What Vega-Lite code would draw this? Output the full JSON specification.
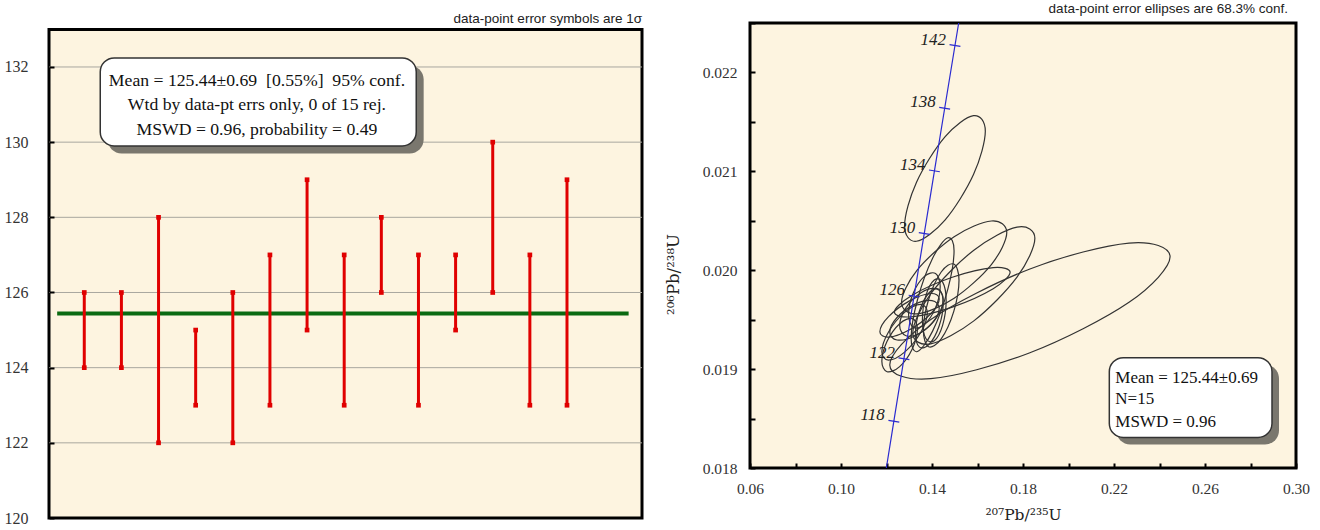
{
  "$schema": "https://vega.github.io/schema/vega-lite/v6.json",
  "background": "white",
  "padding": {"left": 4, "top": 0, "right": 0, "bottom": 0},
  "spacing": 19,
  "config": {
    "view": {"fill": "#fdf4e0", "stroke": "#000000", "strokeWidth": 3},
    "font": "Liberation Serif"
  },
  "datasets": {
    "bars": [
      {"i": 1, "lo": 124, "hi": 126},
      {"i": 2, "lo": 124, "hi": 126},
      {"i": 3, "lo": 122, "hi": 128},
      {"i": 4, "lo": 123, "hi": 125},
      {"i": 5, "lo": 122, "hi": 126},
      {"i": 6, "lo": 123, "hi": 127},
      {"i": 7, "lo": 125, "hi": 129},
      {"i": 8, "lo": 123, "hi": 127},
      {"i": 9, "lo": 126, "hi": 128},
      {"i": 10, "lo": 123, "hi": 127},
      {"i": 11, "lo": 125, "hi": 127},
      {"i": 12, "lo": 126, "hi": 130},
      {"i": 13, "lo": 123, "hi": 127},
      {"i": 14, "lo": 123, "hi": 129}
    ],
    "grid": [{"g": 122}, {"g": 124}, {"g": 126}, {"g": 128}, {"g": 130}, {"g": 132}],
    "mean": [{"x": 0.27, "m": 125.44}, {"x": 15.66, "m": 125.44}],
    "box1": [{"x1": 1.43, "x2": 9.94, "y1": 129.9, "y2": 132.24, "sx1": 1.63, "sx2": 10.14, "sy1": 129.7, "sy2": 132.04}],
    "txt1": [
      {"x": 5.65, "y": 131.64, "t": "Mean = 125.44±0.69\u00a0 [0.55%]\u00a0 95% conf."},
      {"x": 5.65, "y": 130.98, "t": "Wtd by data-pt errs only, 0 of 15 rej."},
      {"x": 5.65, "y": 130.31, "t": "MSWD = 0.96, probability = 0.49"}
    ],
    "ell": [
      {"e":1,"k":0,"x":0.163434,"y":0.0214048},{"e":1,"k":1,"x":0.158238,"y":0.0215626},{"e":1,"k":2,"x":0.145695,"y":0.0213485},{"e":1,"k":3,"x":0.133152,"y":0.0208878},{"e":1,"k":4,"x":0.127956,"y":0.0204506},{"e":1,"k":5,"x":0.133152,"y":0.0202928},{"e":1,"k":6,"x":0.145695,"y":0.0205069},{"e":1,"k":7,"x":0.158238,"y":0.0209676},
      {"e":2,"k":0,"x":0.244651,"y":0.0201352},{"e":2,"k":1,"x":0.226606,"y":0.020275},{"e":2,"k":2,"x":0.183043,"y":0.0200129},{"e":2,"k":3,"x":0.13948,"y":0.0195025},{"e":2,"k":4,"x":0.121435,"y":0.0190428},{"e":2,"k":5,"x":0.13948,"y":0.018903},{"e":2,"k":6,"x":0.183043,"y":0.0191651},{"e":2,"k":7,"x":0.226606,"y":0.0196755},
      {"e":3,"k":0,"x":0.185217,"y":0.0203221},{"e":3,"k":1,"x":0.17736,"y":0.0204353},{"e":3,"k":2,"x":0.158391,"y":0.0202029},{"e":3,"k":3,"x":0.139422,"y":0.019761},{"e":3,"k":4,"x":0.131565,"y":0.0193685},{"e":3,"k":5,"x":0.139422,"y":0.0192553},{"e":3,"k":6,"x":0.158391,"y":0.0194877},{"e":3,"k":7,"x":0.17736,"y":0.0199296},
      {"e":4,"k":0,"x":0.172869,"y":0.020381},{"e":4,"k":1,"x":0.166094,"y":0.0204976},{"e":4,"k":2,"x":0.149739,"y":0.0203393},{"e":4,"k":3,"x":0.133384,"y":0.0199987},{"e":4,"k":4,"x":0.126609,"y":0.0196754},{"e":4,"k":5,"x":0.133384,"y":0.0195588},{"e":4,"k":6,"x":0.149739,"y":0.0197171},{"e":4,"k":7,"x":0.166094,"y":0.0200577},
      {"e":5,"k":0,"x":0.174348,"y":0.0199789},{"e":5,"k":1,"x":0.166898,"y":0.0200266},{"e":5,"k":2,"x":0.148913,"y":0.0199287},{"e":5,"k":3,"x":0.130928,"y":0.0197424},{"e":5,"k":4,"x":0.123478,"y":0.0195769},{"e":5,"k":5,"x":0.130928,"y":0.0195292},{"e":5,"k":6,"x":0.148913,"y":0.0196272},{"e":5,"k":7,"x":0.166898,"y":0.0198134},
      {"e":6,"k":0,"x":0.149695,"y":0.0201978},{"e":6,"k":1,"x":0.146931,"y":0.0203281},{"e":6,"k":2,"x":0.14026,"y":0.0201215},{"e":6,"k":3,"x":0.133589,"y":0.0196989},{"e":6,"k":4,"x":0.130825,"y":0.0193078},{"e":6,"k":5,"x":0.133589,"y":0.0191775},{"e":6,"k":6,"x":0.14026,"y":0.0193841},{"e":6,"k":7,"x":0.146931,"y":0.0198067},
      {"e":7,"k":0,"x":0.151869,"y":0.0198976},{"e":7,"k":1,"x":0.149577,"y":0.0200622},{"e":7,"k":2,"x":0.144043,"y":0.019982},{"e":7,"k":3,"x":0.138509,"y":0.019704},{"e":7,"k":4,"x":0.136217,"y":0.019391},{"e":7,"k":5,"x":0.138509,"y":0.0192265},{"e":7,"k":6,"x":0.144043,"y":0.0193066},{"e":7,"k":7,"x":0.149577,"y":0.0195846},
      {"e":8,"k":0,"x":0.144913,"y":0.0196644},{"e":8,"k":1,"x":0.14313,"y":0.0198048},{"e":8,"k":2,"x":0.138826,"y":0.0197747},{"e":8,"k":3,"x":0.134522,"y":0.0195916},{"e":8,"k":4,"x":0.132739,"y":0.0193629},{"e":8,"k":5,"x":0.134522,"y":0.0192224},{"e":8,"k":6,"x":0.138826,"y":0.0192525},{"e":8,"k":7,"x":0.14313,"y":0.0194356},
      {"e":9,"k":0,"x":0.144912,"y":0.0197066},{"e":9,"k":1,"x":0.142111,"y":0.0198101},{"e":9,"k":2,"x":0.135347,"y":0.0197753},{"e":9,"k":3,"x":0.128583,"y":0.0196225},{"e":9,"k":4,"x":0.125782,"y":0.0194412},{"e":9,"k":5,"x":0.128583,"y":0.0193377},{"e":9,"k":6,"x":0.135347,"y":0.0193725},{"e":9,"k":7,"x":0.142111,"y":0.0195253},
      {"e":10,"k":0,"x":0.143174,"y":0.0196141},{"e":10,"k":1,"x":0.13999,"y":0.0196925},{"e":10,"k":2,"x":0.132304,"y":0.0196543},{"e":10,"k":3,"x":0.124618,"y":0.0195219},{"e":10,"k":4,"x":0.121434,"y":0.0193729},{"e":10,"k":5,"x":0.124618,"y":0.0192945},{"e":10,"k":6,"x":0.132304,"y":0.0193327},{"e":10,"k":7,"x":0.13999,"y":0.0194651},
      {"e":11,"k":0,"x":0.137956,"y":0.0195699},{"e":11,"k":1,"x":0.135027,"y":0.0196543},{"e":11,"k":2,"x":0.127956,"y":0.0195738},{"e":11,"k":3,"x":0.120885,"y":0.0193757},{"e":11,"k":4,"x":0.117956,"y":0.0191759},{"e":11,"k":5,"x":0.120885,"y":0.0190915},{"e":11,"k":6,"x":0.127956,"y":0.019172},{"e":11,"k":7,"x":0.135027,"y":0.0193701},
      {"e":12,"k":0,"x":0.133609,"y":0.0194051},{"e":12,"k":1,"x":0.131317,"y":0.0195109},{"e":12,"k":2,"x":0.125783,"y":0.0194594},{"e":12,"k":3,"x":0.120249,"y":0.0192807},{"e":12,"k":4,"x":0.117957,"y":0.0190795},{"e":12,"k":5,"x":0.120249,"y":0.0189737},{"e":12,"k":6,"x":0.125783,"y":0.0190252},{"e":12,"k":7,"x":0.131317,"y":0.0192039},
      {"e":13,"k":0,"x":0.143609,"y":0.0198352},{"e":13,"k":1,"x":0.141571,"y":0.0199663},{"e":13,"k":2,"x":0.136652,"y":0.0199382},{"e":13,"k":3,"x":0.131733,"y":0.0197673},{"e":13,"k":4,"x":0.129696,"y":0.0195538},{"e":13,"k":5,"x":0.131733,"y":0.0194227},{"e":13,"k":6,"x":0.136652,"y":0.0194508},{"e":13,"k":7,"x":0.141571,"y":0.0196217},
      {"e":14,"k":0,"x":0.143173,"y":0.0197096},{"e":14,"k":1,"x":0.139353,"y":0.0197645},{"e":14,"k":2,"x":0.13013,"y":0.01969},{"e":14,"k":3,"x":0.120907,"y":0.01953},{"e":14,"k":4,"x":0.117087,"y":0.019378},{"e":14,"k":5,"x":0.120907,"y":0.0193231},{"e":14,"k":6,"x":0.13013,"y":0.0193976},{"e":14,"k":7,"x":0.139353,"y":0.0195577},
      {"e":15,"k":0,"x":0.146217,"y":0.0196905},{"e":15,"k":1,"x":0.144689,"y":0.0198792},{"e":15,"k":2,"x":0.141,"y":0.0199008},{"e":15,"k":3,"x":0.137311,"y":0.0197427},{"e":15,"k":4,"x":0.135783,"y":0.0194975},{"e":15,"k":5,"x":0.137311,"y":0.0193088},{"e":15,"k":6,"x":0.141,"y":0.0192872},{"e":15,"k":7,"x":0.144689,"y":0.0194453}
    ],
    "conc": [
      {"t": 115, "x": 0.119933, "y": 0.018},
      {"t": 118, "x": 0.123234, "y": 0.0184733},
      {"t": 122, "x": 0.127668, "y": 0.0191055},
      {"t": 126, "x": 0.132119, "y": 0.019738},
      {"t": 130, "x": 0.136588, "y": 0.020371},
      {"t": 134, "x": 0.141074, "y": 0.0210044},
      {"t": 138, "x": 0.145578, "y": 0.021638},
      {"t": 142, "x": 0.1501, "y": 0.0222722},
      {"t": 143.44, "x": 0.151731, "y": 0.0225}
    ],
    "cticks": [
      {"t": "118", "x": 0.123234, "y": 0.0184733},
      {"t": "122", "x": 0.127668, "y": 0.0191055},
      {"t": "126", "x": 0.132119, "y": 0.019738},
      {"t": "130", "x": 0.136588, "y": 0.020371},
      {"t": "134", "x": 0.141074, "y": 0.0210044},
      {"t": "138", "x": 0.145578, "y": 0.021638},
      {"t": "142", "x": 0.1501, "y": 0.0222722}
    ],
    "box2": [{"x1": 0.21794, "x2": 0.28945, "y1": 0.018309, "y2": 0.019116, "sx1": 0.22102, "sx2": 0.29253, "sy1": 0.018238, "sy2": 0.019045}],
    "txt2": [
      {"x": 0.22057, "y": 0.018908, "t": "Mean = 125.44±0.69"},
      {"x": 0.22057, "y": 0.018696, "t": "N=15"},
      {"x": 0.22057, "y": 0.018467, "t": "MSWD = 0.96"}
    ]
  },
  "hconcat": [
    {
      "width": 593,
      "height": 495,
      "view": {"fill": null, "stroke": null},
      "title": {"text": "data-point error symbols are 1σ", "anchor": "end", "frame": "group", "font": "Liberation Sans", "fontSize": 13.5, "fontWeight": "normal", "color": "#222222", "offset": -2},
      "layer": [
        {
          "data": {"values": [{}]},
          "mark": {"type": "rect", "fill": "#fdf4e0", "stroke": "#000000", "strokeWidth": 3},
          "encoding": {
            "x": {"datum": 0.05, "type": "quantitative", "scale": {"domain": [0.05, 16.02], "nice": false, "zero": false}, "axis": null},
            "x2": {"datum": 16.02},
            "y": {"datum": 120, "type": "quantitative", "scale": {"domain": [120, 133.17], "nice": false, "zero": false},
              "axis": {
                "values": [120, 121, 122, 123, 124, 125, 126, 127, 128, 129, 130, 131, 132, 133],
                "labelExpr": "datum.value % 2 === 0 ? datum.label : ''",
                "title": null,
                "domain": false,
                "grid": false,
                "ticks": true,
                "tickSize": -5,
                "tickWidth": 2,
                "tickColor": "#000000",
                "labelFont": "Liberation Serif",
                "labelFontSize": 16,
                "labelColor": "#333333",
                "labelPadding": 26,
                "labelFlush": false,
                "zindex": 1
              }
            },
            "y2": {"datum": 133}
          }
        },
        {
          "data": {"name": "grid"},
          "mark": {"type": "rule", "color": "#a9a79f", "strokeWidth": 1},
          "encoding": {
            "y": {"field": "g", "type": "quantitative"}
          }
        },
        {
          "data": {"name": "mean"},
          "mark": {"type": "line", "color": "#0b6a12", "strokeWidth": 4},
          "encoding": {
            "x": {"field": "x", "type": "quantitative", "axis": null},
            "y": {"field": "m", "type": "quantitative"}
          }
        },
        {
          "data": {"name": "bars"},
          "mark": {"type": "rule", "color": "#e00000", "strokeWidth": 3},
          "encoding": {
            "x": {"field": "i", "type": "quantitative", "axis": null},
            "y": {"field": "lo", "type": "quantitative"},
            "y2": {"field": "hi"}
          }
        },
        {
          "data": {"name": "bars"},
          "mark": {"type": "point", "shape": "square", "filled": true, "color": "#e00000", "size": 22, "opacity": 1},
          "encoding": {
            "x": {"field": "i", "type": "quantitative", "axis": null},
            "y": {"field": "lo", "type": "quantitative"}
          }
        },
        {
          "data": {"name": "bars"},
          "mark": {"type": "point", "shape": "square", "filled": true, "color": "#e00000", "size": 22, "opacity": 1},
          "encoding": {
            "x": {"field": "i", "type": "quantitative", "axis": null},
            "y": {"field": "hi", "type": "quantitative"}
          }
        },
        {
          "data": {"name": "box1"},
          "mark": {"type": "rect", "fill": "#7a776e", "cornerRadius": 14},
          "encoding": {
            "x": {"field": "sx1", "type": "quantitative", "axis": null},
            "x2": {"field": "sx2"},
            "y": {"field": "sy1", "type": "quantitative"},
            "y2": {"field": "sy2"}
          }
        },
        {
          "data": {"name": "box1"},
          "mark": {"type": "rect", "fill": "#ffffff", "stroke": "#333333", "strokeWidth": 1.5, "cornerRadius": 14},
          "encoding": {
            "x": {"field": "x1", "type": "quantitative", "axis": null},
            "x2": {"field": "x2"},
            "y": {"field": "y1", "type": "quantitative"},
            "y2": {"field": "y2"}
          }
        },
        {
          "data": {"name": "txt1"},
          "mark": {"type": "text", "font": "Liberation Serif", "fontSize": 17.7, "color": "#111111", "align": "center", "baseline": "middle"},
          "encoding": {
            "x": {"field": "x", "type": "quantitative", "axis": null},
            "y": {"field": "y", "type": "quantitative"},
            "text": {"field": "t"}
          }
        }
      ]
    },
    {
      "width": 546,
      "height": 445,
      "title": {"text": "data-point error ellipses are 68.3% conf.", "anchor": "end", "frame": "group", "dx": -8, "font": "Liberation Sans", "fontSize": 13.5, "fontWeight": "normal", "color": "#222222", "offset": 1},
      "layer": [
        {
          "data": {"name": "ell"},
          "mark": {"type": "line", "interpolate": "cardinal-closed", "color": "#333333", "strokeWidth": 1.2},
          "encoding": {
            "x": {"field": "x", "type": "quantitative", "scale": {"domain": [0.06, 0.3], "nice": false, "zero": false},
              "axis": {
                "values": [0.06, 0.08, 0.1, 0.12, 0.14, 0.16, 0.18, 0.2, 0.22, 0.24, 0.26, 0.28, 0.3],
                "labelExpr": "round((datum.value - 0.06) * 50) % 2 === 0 ? format(datum.value, '.2f') : ''",
                "title": "²⁰⁷Pb/²³⁵U",
                "titleFont": "DejaVu Serif",
                "titleFontSize": 15.5,
                "titleFontWeight": "normal",
                "titleColor": "#222222",
                "titlePadding": 11,
                "domain": false,
                "grid": false,
                "tickSize": -5,
                "tickWidth": 2,
                "tickColor": "#000000",
                "labelFont": "Liberation Serif",
                "labelFontSize": 15.5,
                "labelColor": "#333333",
                "labelPadding": 18,
                "labelOverlap": false,
                "labelFlush": false
              }
            },
            "y": {"field": "y", "type": "quantitative", "scale": {"domain": [0.018, 0.0225], "nice": false, "zero": false},
              "axis": {
                "values": [0.018, 0.0185, 0.019, 0.0195, 0.02, 0.0205, 0.021, 0.0215, 0.022, 0.0225],
                "labelExpr": "(round(datum.value * 2000) % 2 === 0) ? format(datum.value, '.3f') : ''",
                "title": "²⁰⁶Pb/²³⁸U",
                "titleFont": "DejaVu Serif",
                "titleFontSize": 16.5,
                "titleFontWeight": "normal",
                "titleColor": "#222222",
                "titlePadding": 21,
                "titleY": 251,
                "domain": false,
                "grid": false,
                "tickSize": -5,
                "tickWidth": 2,
                "tickColor": "#000000",
                "labelFont": "Liberation Serif",
                "labelFontSize": 15.5,
                "labelColor": "#333333",
                "labelPadding": 18,
                "labelOverlap": false,
                "labelFlush": false
              }
            },
            "detail": {"field": "e"},
            "order": {"field": "k"}
          }
        },
        {
          "data": {"name": "conc"},
          "mark": {"type": "line", "color": "#2a2ad0", "strokeWidth": 1.2},
          "encoding": {
            "x": {"field": "x", "type": "quantitative"},
            "y": {"field": "y", "type": "quantitative"},
            "order": {"field": "t"}
          }
        },
        {
          "data": {"name": "cticks"},
          "mark": {"type": "point", "shape": "M-0.987,-0.159L0.987,0.159", "filled": false, "stroke": "#2a2ad0", "strokeWidth": 1.2, "size": 121, "opacity": 1},
          "encoding": {
            "x": {"field": "x", "type": "quantitative"},
            "y": {"field": "y", "type": "quantitative"}
          }
        },
        {
          "data": {"name": "cticks"},
          "mark": {"type": "text", "font": "Liberation Serif", "fontStyle": "italic", "fontSize": 17, "color": "#222222", "align": "right", "baseline": "middle", "dx": -9, "dy": -6},
          "encoding": {
            "x": {"field": "x", "type": "quantitative"},
            "y": {"field": "y", "type": "quantitative"},
            "text": {"field": "t"}
          }
        },
        {
          "data": {"name": "box2"},
          "mark": {"type": "rect", "fill": "#7a776e", "cornerRadius": 14},
          "encoding": {
            "x": {"field": "sx1", "type": "quantitative"},
            "x2": {"field": "sx2"},
            "y": {"field": "sy1", "type": "quantitative"},
            "y2": {"field": "sy2"}
          }
        },
        {
          "data": {"name": "box2"},
          "mark": {"type": "rect", "fill": "#ffffff", "stroke": "#333333", "strokeWidth": 1.5, "cornerRadius": 14},
          "encoding": {
            "x": {"field": "x1", "type": "quantitative"},
            "x2": {"field": "x2"},
            "y": {"field": "y1", "type": "quantitative"},
            "y2": {"field": "y2"}
          }
        },
        {
          "data": {"name": "txt2"},
          "mark": {"type": "text", "font": "Liberation Serif", "fontSize": 17, "color": "#111111", "align": "left", "baseline": "middle"},
          "encoding": {
            "x": {"field": "x", "type": "quantitative"},
            "y": {"field": "y", "type": "quantitative"},
            "text": {"field": "t"}
          }
        }
      ]
    }
  ]
}
